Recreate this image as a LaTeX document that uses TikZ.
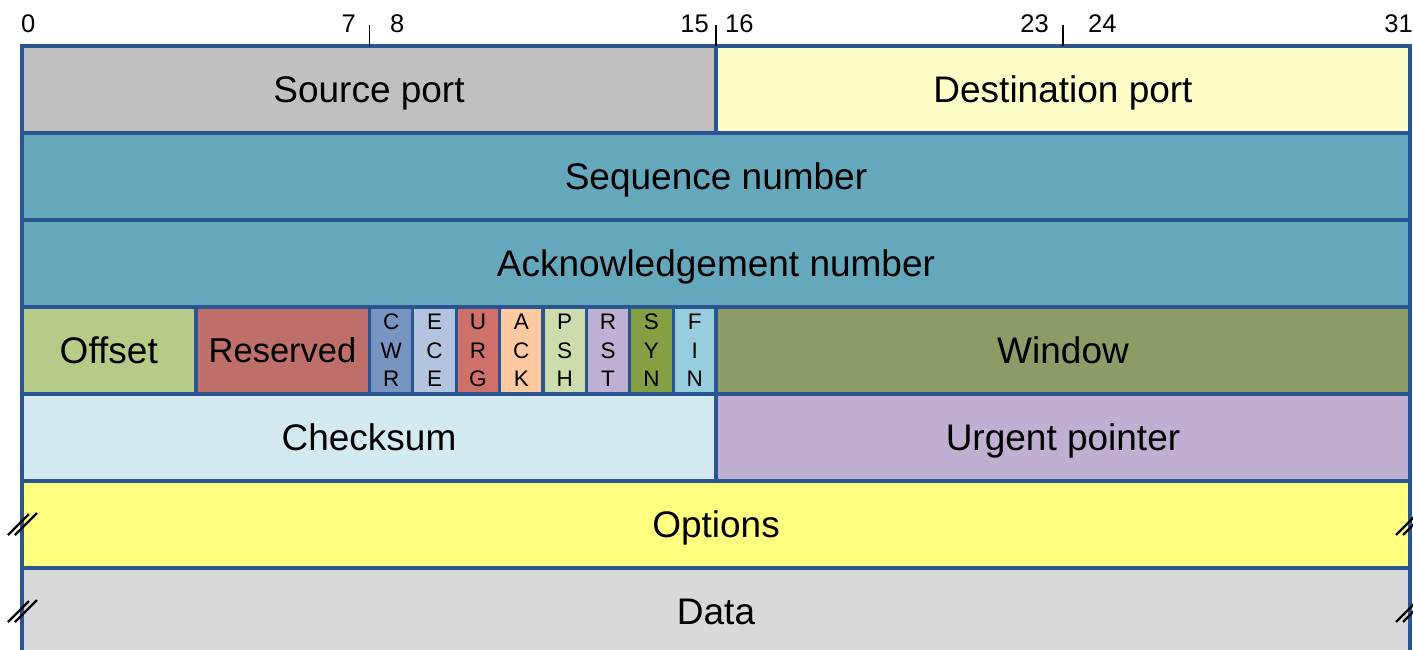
\documentclass[tikz,border=0pt]{standalone}
\usepackage{fontspec}
\setmainfont{Liberation Sans}
\definecolor{bordercol}{HTML}{2B5591}
\definecolor{csrc}{HTML}{C0C0C0}
\definecolor{cdst}{HTML}{FEFEC8}
\definecolor{cseq}{HTML}{65A8BB}
\definecolor{coff}{HTML}{B7CB89}
\definecolor{cres}{HTML}{BF6F6A}
\definecolor{ccwr}{HTML}{7895C1}
\definecolor{cece}{HTML}{B3C5DE}
\definecolor{curg}{HTML}{D0706A}
\definecolor{cack}{HTML}{FCC9A0}
\definecolor{cpsh}{HTML}{CCDCAA}
\definecolor{crst}{HTML}{BFB1D4}
\definecolor{csyn}{HTML}{84A042}
\definecolor{cfin}{HTML}{96CEDE}
\definecolor{cwin}{HTML}{8C9C66}
\definecolor{cchk}{HTML}{D3EAF0}
\definecolor{curp}{HTML}{BFAFD0}
\definecolor{copt}{HTML}{FFFF80}
\definecolor{cdat}{HTML}{D9D9D9}
\begin{document}
\begin{tikzpicture}[x=1pt,y=-1pt,
  cell/.style={draw=bordercol, line width=3.2pt, inner sep=0pt, outer sep=0pt, font=\fontsize{37}{44}\selectfont, text height=26.5pt, text depth=0pt, minimum height=87pt},
  half/.style={cell, minimum width=694pt},
  full/.style={cell, minimum width=1388pt},
  quad/.style={cell, minimum width=173.5pt},
  flag/.style={draw=bordercol, line width=3.2pt, inner sep=0pt, outer sep=0pt, minimum height=87pt, minimum width=43.375pt, font=\fontsize{22.5}{28.5}\selectfont, align=center},
  bitlab/.style={inner sep=0pt, font=\fontsize{25.5}{30}\selectfont},
  tick/.style={black, line width=1.8pt},
  brk/.style={black, line width=2.2pt}]
\useasboundingbox (0,0) rectangle (1413,650);
\begin{scope}
\clip (0,0) rectangle (1413,650);
\node[half, fill=csrc] (src) at (369,89.5) {Source port};
\node[half, fill=cdst] (dst) at (1063,89.5) {Destination port};
\node[full, fill=cseq] (seq) at (716,176.5) {Sequence number};
\node[full, fill=cseq] (ackn) at (716,263.5) {Acknowledgement number};
\node[quad, fill=coff] (off) at (108.75,350.5) {Offset};
\node[quad, fill=cres, font=\fontsize{34.5}{40}\selectfont, text height=24.7pt] (res) at (282.5,350.5) {Reserved};
\node[flag, fill=ccwr] (cwr) at (391.19,350.5) {C\\W\\R};
\node[flag, fill=cece] (ece) at (434.56,350.5) {E\\C\\E};
\node[flag, fill=curg] (urg) at (477.94,350.5) {U\\R\\G};
\node[flag, fill=cack] (ack) at (521.31,350.5) {A\\C\\K};
\node[flag, fill=cpsh] (psh) at (564.69,350.5) {P\\S\\H};
\node[flag, fill=crst] (rst) at (608.06,350.5) {R\\S\\T};
\node[flag, fill=csyn] (syn) at (651.44,350.5) {S\\Y\\N};
\node[flag, fill=cfin] (fin) at (694.81,350.5) {F\\I\\N};
\node[half, fill=cwin] (win) at (1063,350.5) {Window};
\node[half, fill=cchk] (chk) at (369,437.5) {Checksum};
\node[half, fill=curp] (urp) at (1063,437.5) {Urgent pointer};
\node[full, fill=copt] (opt) at (716,524.5) {Options};
\node[full, fill=cdat, minimum height=120pt] (dat) at (716,628) {};
\node[inner sep=0pt, font=\fontsize{37}{44}\selectfont, text height=26.5pt, text depth=0pt] (datl) at (716,611.5) {Data};
\draw[line width=4.5pt, bordercol] (res.north west) -- (res.south west) -- (res.south east);
% break marks
\foreach \yy in {535,622}{
  \draw[brk] (8,\yy) -- (29,\yy-21);
  \draw[brk] (15,\yy) -- (37,\yy-22);
  \draw[brk] (1396,\yy) -- (1417,\yy-21);
  \draw[brk] (1403,\yy) -- (1425,\yy-22);
}
\end{scope}
% ticks
\coordinate (t7) at (369.5,25);
\coordinate (t15) at (716,25);
\coordinate (t23) at (1063,25);
\draw[tick] (t7) -- (t7 |- src.north);
\draw[tick] (t15) -- (t15 |- src.north);
\draw[tick] (t23) -- (t23 |- src.north);
% bit labels
\node[bitlab, anchor=base west] (b0) at (21,33) {0};
\node[bitlab, anchor=base east] (b7) at (356,33) {7};
\node[bitlab, anchor=base west] (b8) at (390,33) {8};
\node[bitlab, anchor=base east] (b15) at (709,33) {15};
\node[bitlab, anchor=base west] (b16) at (725,33) {16};
\node[bitlab, anchor=base east] (b23) at (1049,33) {23};
\node[bitlab, anchor=base west] (b24) at (1088,33) {24};
\node[bitlab, anchor=base east] (b31) at (1413,33) {31};
\end{tikzpicture}
\end{document}
